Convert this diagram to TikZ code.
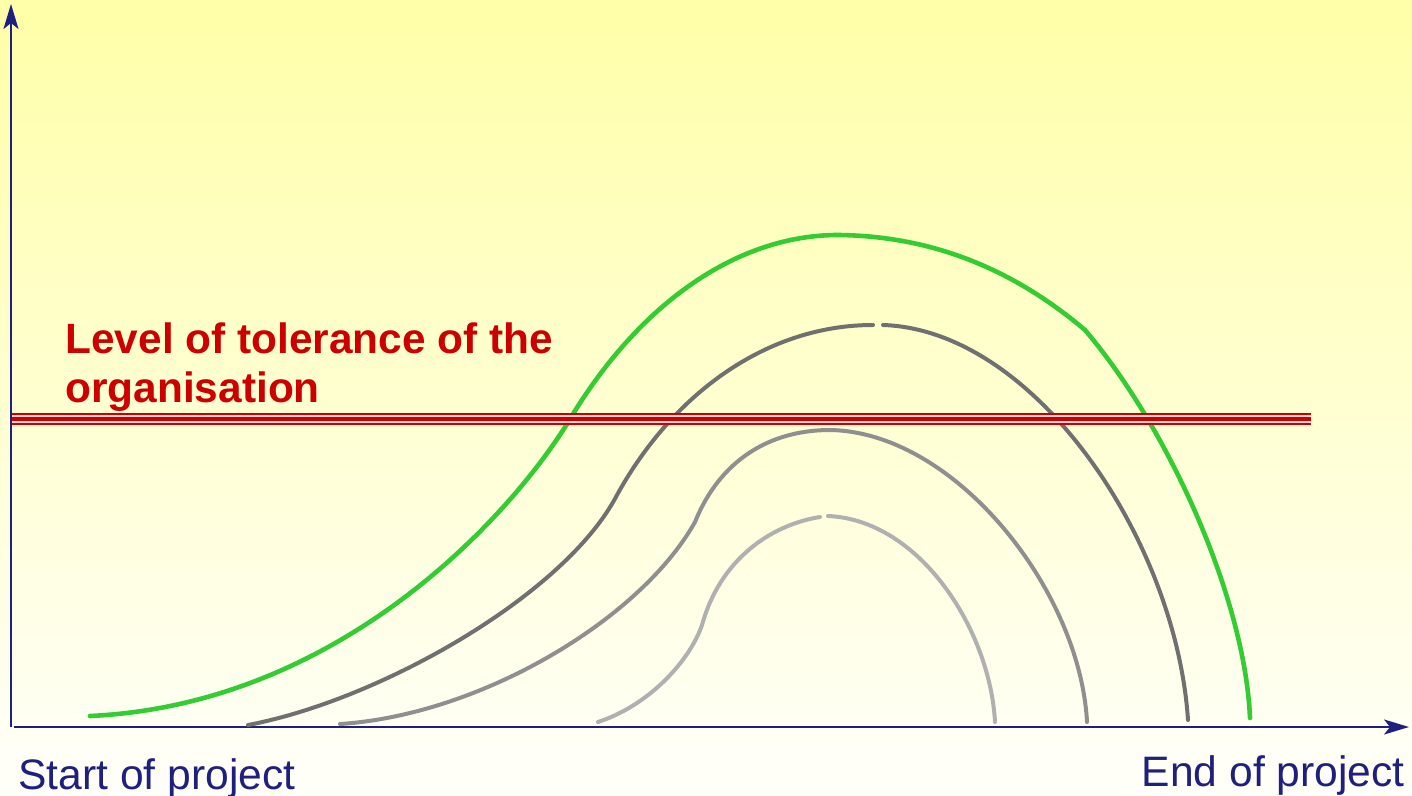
\documentclass[tikz,border=0pt]{standalone}
\usepackage{fontspec}
\setmainfont{Liberation Sans}
\usepackage{xcolor}
\usepackage{tikz}
\usetikzlibrary{arrows.meta,positioning}
\definecolor{cAxis}{RGB}{31,31,128}
\definecolor{cTol}{RGB}{204,0,0}
\definecolor{cGreen}{RGB}{51,204,51}
\definecolor{cDark}{RGB}{112,112,112}
\definecolor{cMid}{RGB}{143,143,143}
\definecolor{cLight}{RGB}{176,176,176}
\definecolor{cTop}{RGB}{255,255,168}
\definecolor{cMidBg}{RGB}{255,255,222}
\definecolor{cBot}{RGB}{255,255,250}
\tikzset{
  axis/.style={draw=cAxis, line width=1pt, -{Stealth[length=12.5pt, width=7.5pt, inset=3pt]}},
  axlbl/.style={text=cAxis, font=\fontsize{21.3}{24.5}\selectfont, inner sep=0pt},
  tollbl/.style={text=cTol, font=\fontsize{21.2}{24.5}\selectfont\bfseries, inner sep=0pt, align=left},
  curve/.style={line width=2pt, line cap=round},
}

\begin{document}
\begin{tikzpicture}[x=0.5pt, y=-0.5pt]
  \useasboundingbox (0,0) rectangle (1412,796);
  \shade[top color=cTop, middle color=cMidBg, bottom color=cBot] (0,0) rectangle (1412,796);

  % axes
  \coordinate (orig) at (11,727);
  \coordinate (ytop) at (11,4);
  \coordinate (xstart) at (14,727);
  \coordinate (xend) at (1409,727);
  \draw[axis] (orig) -- (ytop);
  \draw[axis] (xstart) -- (xend);
  \node[axlbl, anchor=base west] (start) at (18,789) {Start of project};
  \node[axlbl, anchor=base east] (end) at (1405,786) {End of project};

  % tolerance level
  \coordinate (tolL) at (12,419);
  \coordinate (tolR) at (1311,419);
  \node[tollbl, anchor=north west] (tol) at (65,322.5) {Level of tolerance of the\\organisation};

  % curves
  \draw[curve, cLight] (598,722) .. controls (650,705) and (690,660) .. (702,625)
    .. controls (720,560) and (770,525) .. (820,517);
  \draw[curve, cLight] (828,516) .. controls (920,520) and (990,630) .. (995,722);
  \draw[curve, cMid] (340,724) .. controls (480,715) and (640,620) .. (695,522)
    .. controls (720,460) and (770,430) .. (830,430)
    .. controls (955,432) and (1080,590) .. (1087,722);
  \draw[curve, cDark] (248,725) .. controls (380,700) and (565,595) .. (617,495)
    .. controls (675,390) and (770,325) .. (873,325);
  \draw[curve, cDark] (883,325) .. controls (1035,330) and (1176,540) .. (1188,720);
  \draw[curve, cGreen, line width=2.3pt] (90,716) .. controls (330,705) and (500,530) .. (567,424)
    .. controls (640,300) and (740,235) .. (838,235)
    .. controls (940,236) and (1020,275) .. (1085,330)
    .. controls (1170,430) and (1245,600) .. (1250,718);

  \draw[cTol, line width=6pt] (tolL) -- (tolR);
  \draw[white!85!cTol, line width=4pt] (tolL) -- (tolR);
  \draw[cTol, line width=2pt] (tolL) -- (tolR);
\end{tikzpicture}
\end{document}
